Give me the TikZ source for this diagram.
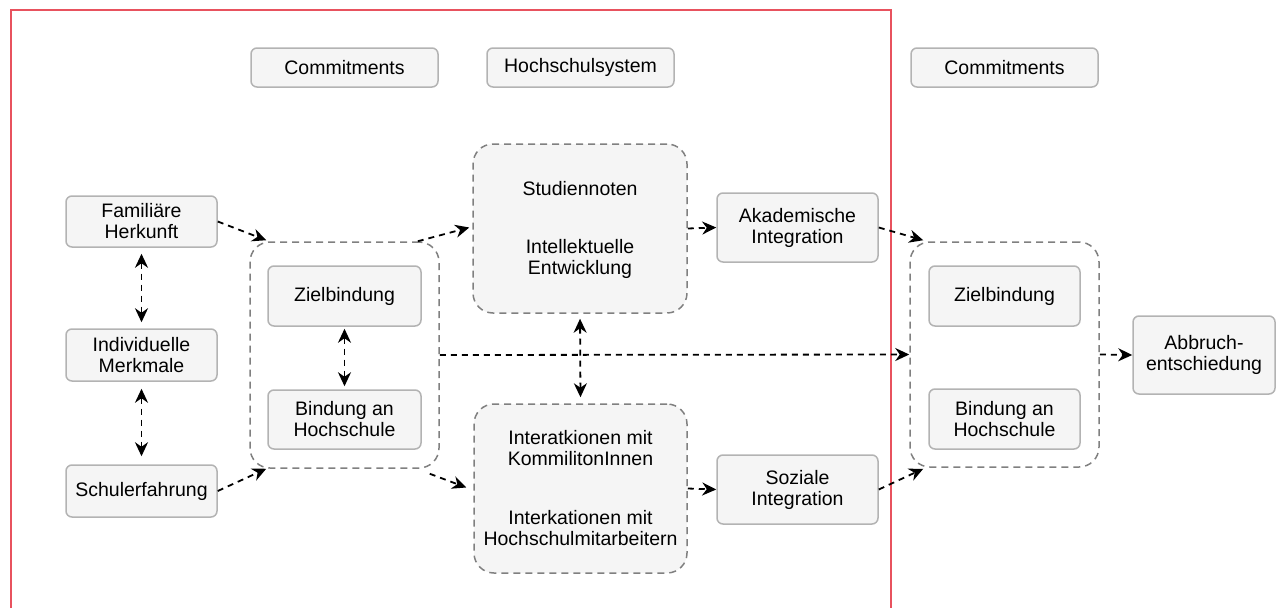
\documentclass[tikz,border=0pt]{standalone}
\usepackage{fontspec}
\setmainfont{Liberation Sans}
\usetikzlibrary{arrows.meta}
\definecolor{boxfill}{HTML}{F5F5F5}
\definecolor{boxline}{HTML}{B3B3B3}
\definecolor{grpline}{HTML}{808080}
\definecolor{frame}{HTML}{E8525E}
\tikzset{
  box/.style={draw=boxline, fill=boxfill, line width=1.5pt, rounded corners=6pt, align=center, inner sep=0pt},
  grp/.style={draw=grpline, line width=1.5pt, dash pattern=on 7pt off 5pt, rounded corners=20pt, inner sep=0pt},
  txt/.style={align=center, inner sep=0pt},
  tip/.tip={Stealth[length=14pt,width=13pt,inset=4.5pt]},
  conn/.style={draw=black, line width=1.8pt, dash pattern=on 6pt off 5pt, -tip},
  biconn/.style={draw=black, line width=1.8pt, dash pattern=on 6pt off 5pt, tip-tip},
}
\begin{document}
\begin{tikzpicture}[x=1pt,y=-1pt,font=\fontsize{19.5}{21}\selectfont]
\useasboundingbox (0,0) rectangle (1276,608);
% red frame
\draw[frame, line width=2pt] (11,608) -- (11,10) -- (891,10) -- (891,608);

% header boxes
\node[box, minimum width=187pt, minimum height=39pt] (c1) at (344.5,67.5) {Commitments};
\node[box, minimum width=187pt, minimum height=39pt] (hs) at (580.5,67.5) {Hochschulsystem};
\node[box, minimum width=187pt, minimum height=39pt] (c2) at (1004.5,67.5) {Commitments};

% left column
\node[box, minimum width=151pt, minimum height=51pt] (fam) at (141.5,221.5) {Familiäre\\Herkunft};
\node[box, minimum width=151pt, minimum height=52pt] (ind) at (141.5,355) {Individuelle\\Merkmale};
\node[box, minimum width=151pt, minimum height=52pt] (sch) at (141.5,491) {Schulerfahrung};

% group 1
\node[grp, fill=white, minimum width=189pt, minimum height=226pt] (g1) at (344.5,355) {};
\node[box, minimum width=153pt, minimum height=60pt] (z1) at (344.5,296) {Zielbindung};
\node[box, minimum width=153pt, minimum height=59pt] (b1) at (344.5,419.5) {Bindung an\\Hochschule};

% academic group
\node[grp, fill=boxfill, minimum width=214pt, minimum height=169pt] (sg) at (580,228.5) {};
\node[txt] (sn) at (580,189) {Studiennoten};
\node[txt] (ie) at (580,259) {Intellektuelle\\Entwicklung};
\node[box, minimum width=161pt, minimum height=69pt] (ak) at (797.5,227.5) {Akademische\\Integration};

% social group
\node[grp, fill=boxfill, minimum width=213pt, minimum height=169pt] (zg) at (580.5,488.5) {};
\node[txt] (ik) at (580.5,448) {Interatkionen mit\\KommilitonInnen};
\node[txt] (ih) at (580.5,528) {Interkationen mit\\Hochschulmitarbeitern};
\node[box, minimum width=161pt, minimum height=69pt] (so) at (797.5,489.5) {Soziale\\Integration};

% group 2
\node[grp, fill=white, minimum width=189pt, minimum height=225pt] (g2) at (1004.5,354.5) {};
\node[box, minimum width=151pt, minimum height=60pt] (z2) at (1004.5,296) {Zielbindung};
\node[box, minimum width=151pt, minimum height=60pt] (b2) at (1004.5,419) {Bindung an\\Hochschule};

\node[box, minimum width=142pt, minimum height=78pt] (ab) at (1204,355) {Abbruch-\\entschiedung};

% connectors
\draw[conn] (fam.east) -- ([xshift=17pt,yshift=1pt]g1.north west);
\draw[conn] (sch.east) -- ([xshift=17pt]g1.south west);
\draw[conn] ([xshift=-22pt]g1.north east) -- ([xshift=-3pt,yshift=1pt]sg.west);
\draw[conn] ([xshift=-10pt,yshift=-5pt]g1.south east) -- ([xshift=-7pt,yshift=1pt]zg.west);
\draw[conn] (sg.east) -- (ak.west);
\draw[conn] (zg.east) -- (so.west);
\draw[conn] (ak.east) -- ([xshift=14pt,yshift=1pt]g2.north west);
\draw[conn] (so.east) -- ([xshift=14pt,yshift=-1pt]g2.south west);
\draw[conn] (g1.east) -- (g2.west);
\draw[conn] (g2.east) -- (ab.west);

\draw[biconn, shorten <=6pt, shorten >=6pt] (fam.south) -- (ind.north);
\draw[biconn, shorten <=7pt, shorten >=8pt] (ind.south) -- (sch.north);
\draw[biconn, shorten <=2pt, shorten >=3pt] (z1.south) -- (b1.north);
\draw[biconn, shorten <=5pt, shorten >=6pt] (sg.south) -- (zg.north);
\end{tikzpicture}
\end{document}
